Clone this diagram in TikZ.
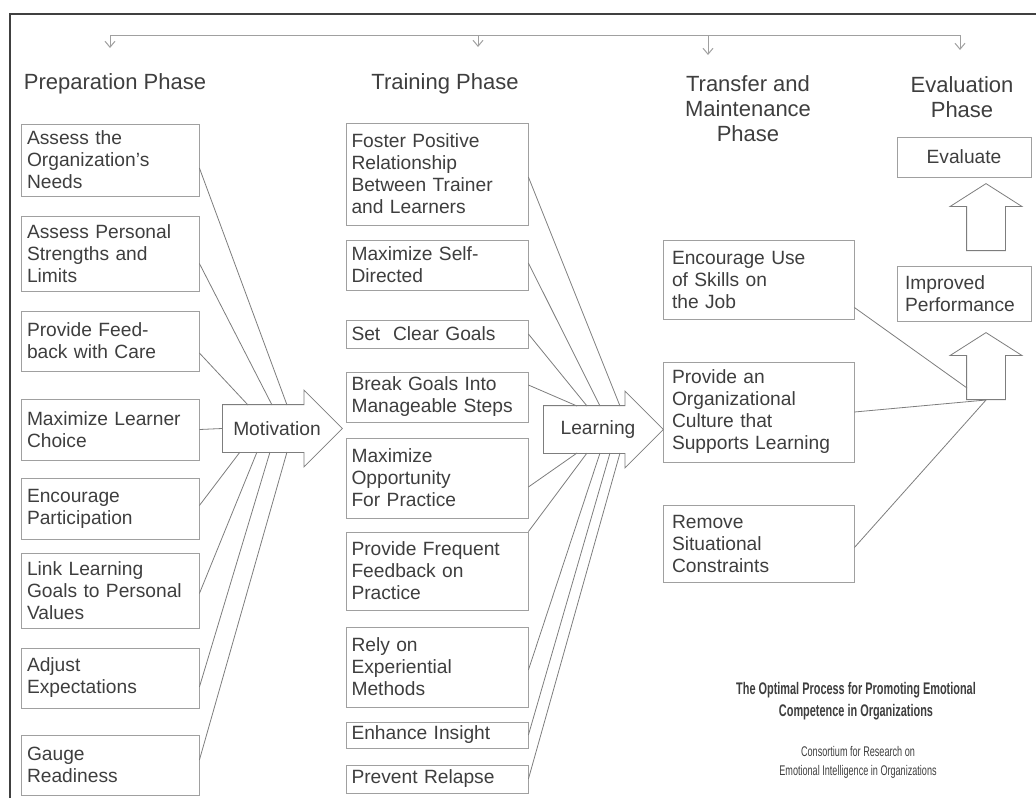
\documentclass[tikz,border=0pt]{standalone}
\usepackage{fontspec}
\setmainfont{Liberation Sans}
\newfontfamily\narrowfont[FakeStretch=0.65]{Liberation Sans}
\usetikzlibrary{shapes.arrows,arrows.meta,calc}
\definecolor{boxgray}{RGB}{160,160,160}
\definecolor{linegray}{RGB}{125,125,125}
\definecolor{inkgray}{RGB}{62,62,62}
\newcommand\boxfont{\fontsize{9.6}{11}\selectfont}
\newcommand\headfont{\fontsize{11}{12.5}\selectfont}

\begin{document}
\begin{tikzpicture}[
        x                = 0.5pt,
        y                = -0.5pt,
        box/.style       = {draw=boxgray, text=inkgray, font=\boxfont, align=left, inner xsep=3pt, inner ysep=2pt},
        prepbox/.style   = {box, text width=83pt},
        trainbox/.style  = {box, text width=85.5pt, inner xsep=2.75pt},
        transbox/.style  = {box, text width=86.5pt, inner xsep=4.5pt},
        evalbox/.style   = {box, text width=59pt, inner xsep=4pt},
        head/.style      = {text=inkgray, font=\headfont, align=center},
        bigarrow/.style  = {single arrow, draw=linegray, fill=white, inner sep=11.75pt, single arrow head extend=7.25pt, minimum height=60pt},
        uparrow/.style   = {single arrow, draw=linegray, fill=white, inner sep=9.5pt, single arrow head extend=8.25pt, single arrow tip angle=115, minimum height=33.5pt, shape border rotate=90},
        link/.style      = {draw=linegray, line width=0.4pt},
        bus/.style       = {draw=boxgray, line width=0.5pt},
        drop/.style      = {bus, -{Straight Barb[length=3pt,width=5pt]}},
        %sloped
      ]
        \useasboundingbox (0,0) rectangle (1036,798);
        \draw[line width=1.1pt, black!75] (10,798) |- (1036,14);

        \coordinate (busL) at (110,35);
        \coordinate (busR) at (960,35);
        \draw[bus] (busL) -- (busR);
        \draw[drop] (busL) -- ++(0,13);
        \draw[drop] (478,35) -- ++(0,12);
        \draw[drop] (708,35) -- ++(0,20);
        \draw[drop] (busR) -- ++(0,15);

        \node[head] (h1) at (115,84) {Preparation Phase};
        \node[head] (h2) at (445,84) {Training Phase};
        \node[head] (h3) at (748,109) {Transfer and\\Maintenance\\Phase};
        \node[head] (h4) at (962,97.5) {Evaluation\\Phase};

        \node[prepbox, minimum height=36pt]   (p1) at (110,160)   {Assess the\\Organization's\\Needs};
        \node[prepbox, minimum height=37.5pt] (p2) at (110,253.5) {Assess Personal\\Strengths and\\ Limits};
        \node[prepbox, minimum height=30pt]   (p3) at (110,341)   {Provide Feed-\\back with Care};
        \node[prepbox, minimum height=30.5pt] (p4) at (110,429.5) {Maximize Learner\\Choice};
        \node[prepbox, minimum height=30.5pt] (p5) at (110,508.5) {Encourage\\Participation};
        \node[prepbox, minimum height=37.5pt] (p6) at (110,590.5) {Link Learning\\Goals to Personal\\Values};
        \node[prepbox, minimum height=30pt]   (p7) at (110,678)   {Adjust\\Expectations};
        \node[prepbox, minimum height=30pt]   (p8) at (110,765)   {Gauge\\Readiness};

        \node[trainbox, minimum height=51pt] (t1) at (437,174) {Foster Positive\\Relationship\\Between Trainer\\and Learners};
        \node[trainbox, minimum height=25pt] (t2) at (437,265) {Maximize Self-\\Directed};
        \node[trainbox, minimum height=14pt] (t3) at (437,334) {Set \ Clear Goals};
        \node[trainbox, minimum height=25pt] (t4) at (437,397) {Break Goals Into\\Manageable Steps};
        \node[trainbox, minimum height=40pt] (t5) at (437,478) {Maximize\\Opportunity\\For Practice};
        \node[trainbox, minimum height=39pt] (t6) at (437,571) {Provide Frequent\\Feedback on\\Practice};
        \node[trainbox, minimum height=40pt] (t7) at (437,667) {Rely on\\Experiential\\Methods};
        \node[trainbox, minimum height=13pt] (t8) at (437,735) {Enhance Insight};
        \node[trainbox, minimum height=14pt] (t9) at (437,779) {Prevent Relapse};

        \node[transbox, minimum height=39.5pt] (r1) at (758.5,279.5) {Encourage Use\\of Skills on\\the Job};
        \node[transbox, minimum height=50pt]   (r2) at (758.5,412)   {Provide an\\Organizational\\Culture that\\Supports Learning};
        \node[transbox, minimum height=38.5pt] (r3) at (758.5,543.5) {Remove\\Situational\\Constraints};

        \node[evalbox, align=center, minimum height=20pt] (ev) at (964,157)   {Evaluate};
        \node[evalbox, minimum height=27.5pt]             (ip) at (964,293.5) {Improved\\Performance};

        \node[bigarrow, anchor=tail] (motiv) at (222,428.5) {};
        \node[text=inkgray, font=\boxfont] (motivtext) at (277,428.5) {Motivation};
        \node[bigarrow, anchor=tail] (learn) at (543,429.5) {};
        \node[text=inkgray, font=\boxfont] (learntext) at (598,430) {Learning};
        \node[uparrow, anchor=tail] (perf) at (986,400) {};
        \node[uparrow, anchor=tail] (evalup) at (986,251) {};

        \draw[link] ([yshift=-4pt]p1.east)   -- ($(motiv.tail)+(65,-23.5)$);
        \draw[link] ([yshift=-5pt]p2.east)   -- ($(motiv.tail)+(50,-23.5)$);
        \draw[link] ([yshift=-6pt]p3.east)   -- ($(motiv.tail)+(26,-23.5)$);
        \draw[link] (p4.east)                -- (motiv.tail);
        \draw[link] ([yshift=1.5pt]p5.east)  -- ($(motiv.tail)+(18,23.5)$);
        \draw[link] ([yshift=-1.5pt]p6.east) -- ($(motiv.tail)+(35,23.5)$);
        \draw[link] ([yshift=-4.5pt]p7.east) -- ($(motiv.tail)+(48,23.5)$);
        \draw[link] ([yshift=2.5pt]p8.east)  -- ($(motiv.tail)+(65,23.5)$);

        \draw[link] ([yshift=-1.5pt]t1.east) -- ($(learn.tail)+(77,-23.5)$);
        \draw[link] ([yshift=1pt]t2.east)    -- ($(learn.tail)+(57,-23.5)$);
        \draw[link] (t3.east)                -- ($(learn.tail)+(44,-23.5)$);
        \draw[link] ([yshift=6pt]t4.east)    -- ($(learn.tail)+(34,-23.5)$);
        \draw[link] ([yshift=-4.5pt]t5.east) -- ($(learn.tail)+(34,23.5)$);
        \draw[link] (t6.north east)          -- ($(learn.tail)+(44,23.5)$);
        \draw[link] ([yshift=-1.5pt]t7.east) -- ($(learn.tail)+(57,23.5)$);
        \draw[link] (t8.east)                -- ($(learn.tail)+(67,23.5)$);
        \draw[link] (t9.east)                -- ($(learn.tail)+(77,23.5)$);

        \draw[link] ([yshift=-14pt]r1.east) -- ($(perf.tail)+(-19,-12)$);
        \draw[link] (r2.east)               -- (perf.tail);
        \draw[link] ([yshift=-2pt]r3.east)  -- (perf.tail);

        \node[text=inkgray, align=center, font=\narrowfont\fontsize{8.4}{11}\selectfont\bfseries] (title) at (856,701)
            {The Optimal Process for Promoting Emotional\\Competence in Organizations};
        \node[text=inkgray, align=center, font=\narrowfont\fontsize{7}{9.5}\selectfont] (credit) at (858,762.5)
            {Consortium for Research on\\Emotional Intelligence in Organizations};
\end{tikzpicture}
\end{document}
